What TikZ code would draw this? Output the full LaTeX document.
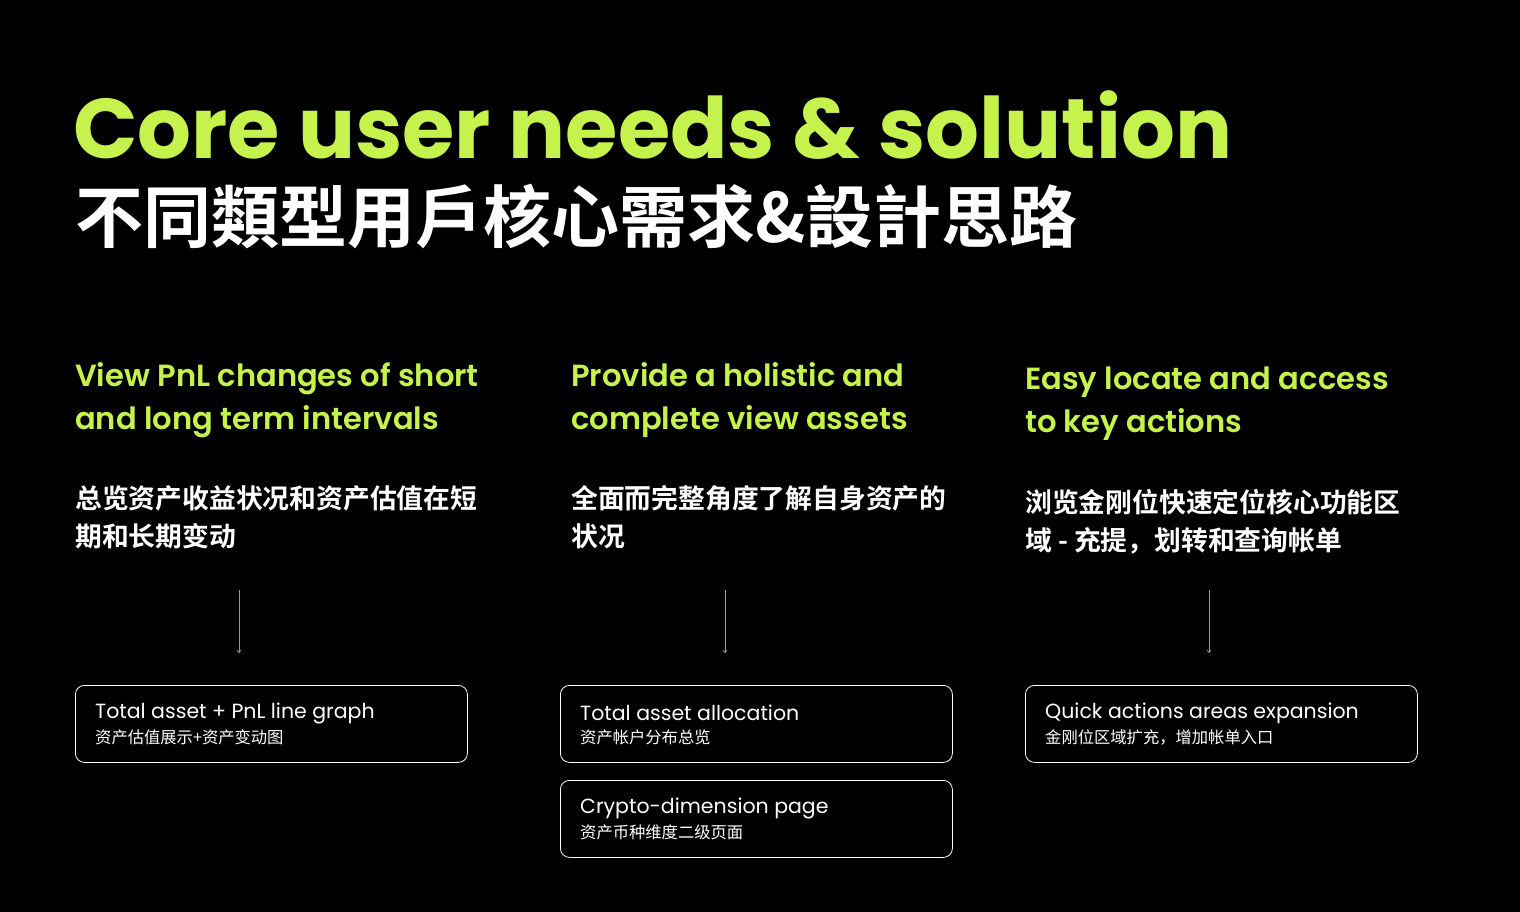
\documentclass[tikz,border=0pt]{standalone}
\usepackage{fontspec}
\usetikzlibrary{arrows.meta}
\setmainfont{Poppins}
\newfontfamily\pbold{Poppins}[UprightFont=* SemiBold, BoldFont=* Bold]
\newfontfamily\tcfont{Noto Sans CJK TC}[BoldFont=* Bold]
\newfontfamily\scfont{Noto Sans CJK SC}[BoldFont=* Bold]
\definecolor{lime}{HTML}{C6F24E}
\begin{document}
\begin{tikzpicture}[x=1pt,y=-1pt,
  head/.style={anchor=north west,text=lime,font=\pbold\fontsize{30.6}{43}\selectfont,align=left,inner sep=0},
  body/.style={anchor=north west,text=white,font=\scfont\bfseries\fontsize{26.8}{38}\selectfont,align=left,inner sep=0},
  card/.style={draw=white,line width=0.8pt,rounded corners=9pt,anchor=north west,minimum width=392pt,minimum height=77pt},
  ctitle/.style={anchor=west,text=white,font=\fontsize{20.5}{24}\selectfont,inner sep=0},
  csub/.style={anchor=west,text=white,font=\scfont\fontsize{16.3}{18}\selectfont,inner sep=0},
  arr/.style={draw=gray!80,line width=0.7pt,-{To[length=3pt,width=4pt]}}]
\fill[black] (0,0) rectangle (1520,912);
\useasboundingbox (0,0) rectangle (1520,912);
\node[anchor=base west,inner sep=0,text=lime,font=\pbold\bfseries\fontsize{84.7}{85}\selectfont] (t1) at (73,159) {Core user needs \& solution};
\node[anchor=base west,inner sep=0,text=white,font=\tcfont\bfseries\fontsize{68}{68}\selectfont] (t2) at (75,242) {不同類型用戶核心需求\&設計思路};
\node[head] (h1) at (75,362) {View PnL changes of short\\and long term intervals};
\node[head] (h2) at (571,362) {Provide a holistic and\\complete view assets};
\node[head] (h3) at (1025,367) {Easy locate and access\\to key actions};
\node[body] (b1) at (75,485) {总览资产收益状况和资产估值在短\\期和长期变动};
\node[body] (b2) at (571,485) {全面而完整角度了解自身资产的\\状况};
\node[body] (b3) at (1025,489) {浏览金刚位快速定位核心功能区\\域 - 充提，划转和查询帐单};
\coordinate (a1s) at (239,590); \coordinate (a1e) at (239,653);
\coordinate (a2s) at (725,590); \coordinate (a2e) at (725,653);
\coordinate (a3s) at (1209,590); \coordinate (a3e) at (1209,653);
\draw[arr] (a1s) -- (a1e);
\draw[arr] (a2s) -- (a2e);
\draw[arr] (a3s) -- (a3e);
\node[card] (c1) at (75,685) {};
\node[card] (c2) at (560,685) {};
\node[card] (c3) at (1025,685) {};
\node[card] (c4) at (560,780) {};
\node[ctitle] (c1t) at (95,713) {Total asset + PnL line graph};
\node[csub] (c1s) at (95,737) {资产估值展示+资产变动图};
\node[ctitle] (c2t) at (580,713) {Total asset allocation};
\node[csub] (c2s) at (580,737) {资产帐户分布总览};
\node[ctitle] (c3t) at (1045,713) {Quick actions areas expansion};
\node[csub] (c3s) at (1045,737) {金刚位区域扩充，增加帐单入口};
\node[ctitle] (c4t) at (580,808) {Crypto-dimension page};
\node[csub] (c4s) at (580,832) {资产币种维度二级页面};
\end{tikzpicture}
\end{document}
